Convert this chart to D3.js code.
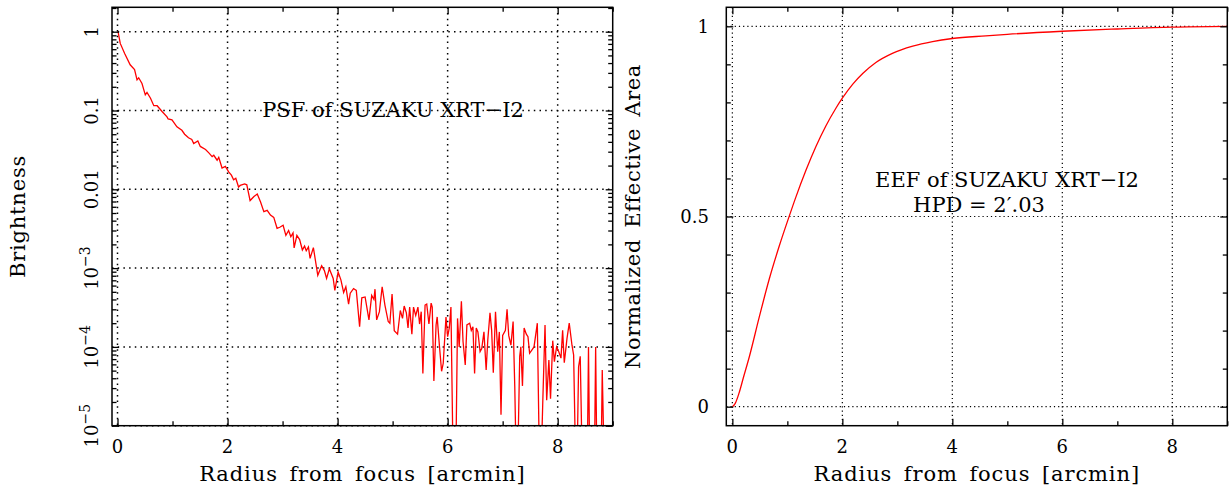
<!DOCTYPE html>
<html><head><meta charset="utf-8">
<script src="https://cdn.jsdelivr.net/npm/d3@7"></script>
<style>
body{margin:0;background:#fff}
svg{display:block}
text{font-family:"DejaVu Serif",serif;fill:#000}
</style>
</head><body>
<svg id="c" width="1231" height="488"></svg>
<script>
// ---------- data ----------
const psfRadius = [0.01,0.05,0.13,0.23,0.31,0.355,0.385,0.445,0.505,0.536,0.60,0.66,0.72,0.81,0.90,0.92,0.99,1.08,1.17,1.22,1.29,1.35,1.385,1.46,1.505,1.60,1.66,1.72,1.75,1.81,1.84,1.90,1.96,2.02,2.07,2.11,2.15,2.20,2.23,2.31,2.35,2.41,2.48,2.54,2.60,2.66,2.72,2.78,2.84,2.90,2.95,3.01,3.06,3.11,3.15,3.19,3.21,3.26,3.31,3.36,3.40,3.43,3.47,3.50,3.56,3.64,3.71,3.76,3.80,3.85,3.92,3.95,4.01,4.06,4.11,4.15,4.20,4.23,4.29,4.34,4.40,4.44,4.50,4.57,4.62,4.66,4.68,4.71,4.76,4.81,4.86,4.92,4.95,4.99,5.03,5.09,5.14,5.18,5.21,5.25,5.28,5.31,5.35,5.38,5.42,5.46,5.49,5.52,5.55,5.59,5.62,5.66,5.70,5.72,5.75,5.79,5.81,5.85,5.89,5.92,5.97,6.00,6.03,6.06,6.11,6.14,6.18,6.21,6.25,6.28,6.32,6.35,6.40,6.43,6.46,6.49,6.52,6.55,6.59,6.62,6.66,6.70,6.73,6.77,6.80,6.83,6.87,6.91,6.94,6.97,7.00,7.05,7.08,7.11,7.15,7.19,7.22,7.26,7.31,7.33,7.36,7.39,7.43,7.46,7.49,7.53,7.57,7.63,7.68,7.73,7.77,7.80,7.84,7.87,7.91,7.94,7.98,8.02,8.06,8.09,8.12,8.17,8.21,8.26,8.29,8.34,8.38,8.41,8.46,8.53,8.56,8.59,8.66,8.69,8.72,8.78,8.81,8.86,8.95];
const psfBrightness = [1.0,0.71,0.53,0.38,0.33,0.245,0.26,0.22,0.158,0.17,0.143,0.115,0.115,0.097,0.083,0.078,0.076,0.062,0.056,0.050,0.045,0.043,0.038,0.041,0.035,0.032,0.029,0.026,0.027,0.0234,0.0254,0.0186,0.0195,0.0166,0.0151,0.0132,0.0138,0.0107,0.0112,0.0117,0.0114,0.0072,0.0081,0.0087,0.0069,0.0052,0.0054,0.0047,0.0044,0.0032,0.0033,0.0035,0.0026,0.0030,0.0025,0.0028,0.0018,0.0026,0.0023,0.0017,0.0019,0.00166,0.00186,0.00133,0.00182,0.00081,0.00107,0.00093,0.00074,0.00098,0.00074,0.00052,0.00089,0.00071,0.00049,0.00058,0.00035,0.00048,0.00055,0.00052,0.00018,0.00042,0.00043,0.00022,0.00045,0.00040,0.00054,0.00022,0.00028,0.00058,0.00034,0.00021,0.00020,0.00047,0.00016,0.000145,0.00029,0.00023,0.00033,0.00027,0.000174,0.00032,0.000145,0.00032,0.00025,0.00032,0.000195,0.00028,0.000046,0.00034,0.00035,0.000195,0.00036,0.00032,0.000037,0.00019,0.00024,0.000105,0.000049,0.000062,0.00024,0.000135,0.000174,0.00032,0.000001,0.000001,0.00023,0.0001,0.00038,0.000117,0.000059,0.00019,0.0002,0.000162,0.00018,0.000046,0.000174,0.000155,0.000087,0.000095,0.000155,0.000051,0.000123,0.00027,0.000162,0.000047,0.00028,0.000087,0.000155,0.0000138,0.00014,0.000162,0.00030,0.00014,0.000105,0.00021,0.000032,0.000001,0.000076,0.0001,0.000032,0.000174,0.000145,0.000135,0.000083,0.000091,0.0001,0.0002,0.000001,0.000021,0.00019,0.000021,0.000068,0.000022,0.00012,0.000065,0.0001,0.000087,0.000072,0.000162,0.000063,0.000129,0.0002,0.000105,0.000079,0.000001,0.000056,0.000076,0.000001,0.000001,0.0001,0.000001,0.000001,0.0001,0.000001,0.000001,0.000051,0.000001,0.000001];

const eefRadius = [0,0.05,0.12,0.2,0.31,0.49,0.67,0.85,1.03,1.15,1.34,1.52,1.70,1.88,2.0,2.19,2.37,2.61,2.91,3.28,3.64,4.0,4.61,5.0,6.0,7.0,8.0,9.0];
const eefValue  = [0,0.008,0.035,0.076,0.132,0.236,0.335,0.421,0.499,0.549,0.622,0.684,0.738,0.784,0.811,0.848,0.876,0.905,0.929,0.948,0.960,0.968,0.975,0.979,0.987,0.993,0.998,1.0];

const xMajorTicks = [0,2,4,6,8];
const xMinorTicks = [1,3,5,7,9];
const psfMajorTicks = [1,0.1,0.01,1e-3,1e-4,1e-5];
const psfTickLabels = [{b:"1"},{b:"0.1"},{b:"0.01"},{b:"10",e:"\u22123"},{b:"10",e:"\u22124"},{b:"10",e:"\u22125"}];
const eefMajorTicks = [0,0.5,1];
const eefTickLabels = ["0","0.5","1"];
const eefMinorTicks = [0.1,0.2,0.3,0.4,0.6,0.7,0.8,0.9];

const xTitle = "Radius from focus [arcmin]";
const psfTitle = "Brightness";
const eefTitle = "Normalized Effective Area";
const psfNote = "PSF of SUZAKU XRT\u2212I2";
const eefNote1 = "EEF of SUZAKU XRT\u2212I2";
const eefNote2 = "HPD = 2\u2032.03";

// ---------- drawing ----------
(function(){
const svg = d3.select("#c");
svg.append("rect").attr("width",1231).attr("height",488).attr("fill","#fff");

const pTop = 7.3, pBot = 425.7;
const L = {x0:112, x1:612.7}, R = {x0:726.3, x1:1227.3};

const xL = d3.scaleLinear().domain([-0.1,9]).range([L.x0,L.x1]);
const yL = d3.scaleLog().domain([1e-5,2.04]).range([pBot,pTop]);
const xR = d3.scaleLinear().domain([-0.11,9]).range([R.x0,R.x1]);
const yR = d3.scaleLinear().domain([-0.05,1.05]).range([pBot,pTop]);

const psfMinor = [];
for (let k=-5;k<=0;k++) for (let m=2;m<=9;m++){ const v=m*Math.pow(10,k); if (v<=2.04) psfMinor.push(v); }

function grid(g, xs, ys, xTicks, yTicks, dash, sw){
  const gg = g.append("g").attr("stroke","#000").attr("stroke-width",sw).attr("stroke-dasharray",dash).attr("fill","none");
  xTicks.forEach(t=>gg.append("line").attr("x1",xs(t)).attr("x2",xs(t)).attr("y1",pTop).attr("y2",pBot));
  yTicks.forEach(t=>gg.append("line").attr("x1",xs.range()[0]).attr("x2",xs.range()[1]).attr("y1",ys(t)).attr("y2",ys(t)));
}

function axes(g, xs, ys, yMaj, yMin){
  const x0 = xs.range()[0], x1 = xs.range()[1];
  const add = (ax, tr) => {
    const a = g.append("g").attr("transform",tr).call(ax);
    a.select(".domain").remove();
    a.selectAll("text").remove();
    a.selectAll("line").attr("stroke","#000").attr("stroke-width",1.3);
  };
  add(d3.axisBottom(xs).tickValues(xMajorTicks).tickSize(-7), `translate(0,${pBot})`);
  add(d3.axisBottom(xs).tickValues(xMinorTicks).tickSize(-4.5), `translate(0,${pBot})`);
  add(d3.axisTop(xs).tickValues(xMajorTicks).tickSize(-7), `translate(0,${pTop})`);
  add(d3.axisTop(xs).tickValues(xMinorTicks).tickSize(-4.5), `translate(0,${pTop})`);
  add(d3.axisLeft(ys).tickValues(yMaj).tickSize(-7), `translate(${x0},0)`);
  add(d3.axisLeft(ys).tickValues(yMin).tickSize(-4.5), `translate(${x0},0)`);
  add(d3.axisRight(ys).tickValues(yMaj).tickSize(-7), `translate(${x1},0)`);
  add(d3.axisRight(ys).tickValues(yMin).tickSize(-4.5), `translate(${x1},0)`);
  g.append("rect").attr("x",x0).attr("y",pTop).attr("width",x1-x0).attr("height",pBot-pTop)
    .attr("fill","none").attr("stroke","#000").attr("stroke-width",1.5);
  g.append("g").selectAll("text").data(xMajorTicks).join("text")
    .attr("x",d=>xs(d)).attr("y",453).attr("text-anchor","middle").attr("font-size",18).text(d=>d);
  g.append("text").attr("x",(x0+x1)/2).attr("y",481).attr("text-anchor","middle").attr("font-size",21)
    .attr("letter-spacing","0.9px").attr("word-spacing","4px").text(xTitle);
}

const defs = svg.append("defs");
defs.append("clipPath").attr("id","clipL").append("rect").attr("x",L.x0).attr("y",pTop).attr("width",L.x1-L.x0).attr("height",pBot-pTop);
defs.append("clipPath").attr("id","clipR").append("rect").attr("x",R.x0).attr("y",pTop).attr("width",R.x1-R.x0).attr("height",pBot-pTop);

// ---- left panel ----
const gL = svg.append("g");
grid(gL, xL, yL, xMajorTicks, psfMajorTicks, "1.5,4.2", 1.5);
const psfData = psfRadius.map((r,i)=>[r,psfBrightness[i]]);
gL.append("path").attr("clip-path","url(#clipL)")
  .attr("d", d3.line().x(d=>xL(d[0])).y(d=>yL(d[1]))(psfData))
  .attr("fill","none").attr("stroke","#ff0000").attr("stroke-width",1.3);
axes(gL, xL, yL, psfMajorTicks, psfMinor);
psfMajorTicks.forEach((t,i)=>{
  const lab = psfTickLabels[i];
  const tx = gL.append("text").attr("transform",`translate(98,${yL(t)}) rotate(-90)`)
    .attr("text-anchor","middle").attr("font-size",18);
  tx.append("tspan").text(lab.b);
  if (lab.e) tx.append("tspan").attr("dy",-8).attr("font-size",14).text(lab.e);
});
gL.append("text").attr("transform",`translate(25,${(pTop+pBot)/2}) rotate(-90)`)
  .attr("text-anchor","middle").attr("font-size",21).attr("letter-spacing","0.8px").text(psfTitle);
gL.append("text").attr("x",393).attr("y",117).attr("text-anchor","middle").attr("font-size",21).text(psfNote);

// ---- right panel ----
const gR = svg.append("g");
grid(gR, xR, yR, xMajorTicks, eefMajorTicks, "1.2,3", 1.2);
const eefData = eefRadius.map((r,i)=>[r,eefValue[i]]);
gR.append("path").attr("clip-path","url(#clipR)")
  .attr("d", d3.line().curve(d3.curveMonotoneX).x(d=>xR(d[0])).y(d=>yR(d[1]))(eefData))
  .attr("fill","none").attr("stroke","#ff0000").attr("stroke-width",1.3);
axes(gR, xR, yR, eefMajorTicks, eefMinorTicks);
gR.append("g").selectAll("text").data(eefMajorTicks).join("text")
  .attr("x",709).attr("y",d=>yR(d)).attr("dy","0.36em").attr("text-anchor","end").attr("font-size",18)
  .text((d,i)=>eefTickLabels[i]);
gR.append("text").attr("transform",`translate(640,${(pTop+pBot)/2}) rotate(-90)`)
  .attr("text-anchor","middle").attr("font-size",21).attr("letter-spacing","0.6px").attr("word-spacing","4px").text(eefTitle);
gR.append("text").attr("x",1007).attr("y",187).attr("text-anchor","middle").attr("font-size",21).text(eefNote1);
gR.append("text").attr("x",979).attr("y",212).attr("text-anchor","middle").attr("font-size",21).text(eefNote2);
})();
</script>
</body></html>
